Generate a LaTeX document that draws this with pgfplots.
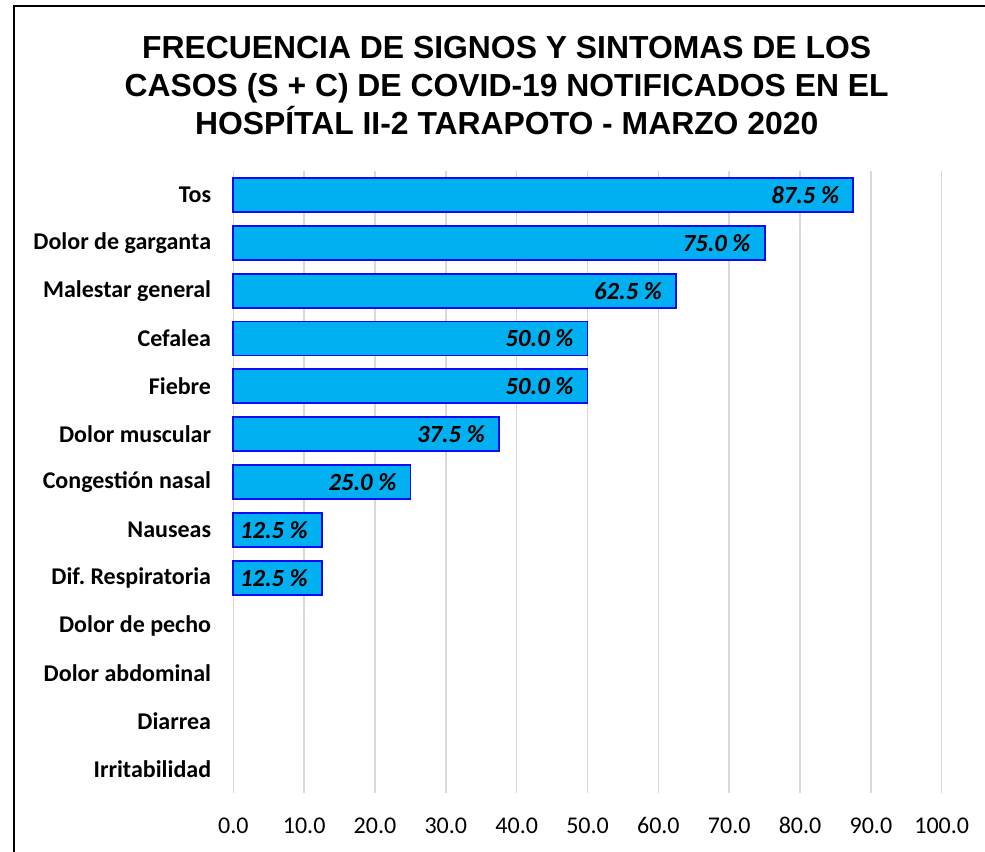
\documentclass[border=0pt]{standalone}
\usepackage{fontspec}
\usepackage{pgfplots}
\pgfplotsset{compat=1.18}
\setmainfont{Carlito}
\newfontfamily\titlefont{Liberation Sans}
\definecolor{barfill}{HTML}{00B0F0}
\definecolor{baredge}{HTML}{0A0AF5}
\definecolor{gridc}{HTML}{D9D9D9}
\frenchspacing
\begin{document}
\begin{tikzpicture}
\useasboundingbox (0,0) rectangle (738.75pt,-638.25pt);
\draw[line width=1.5pt] (10.5pt,-640pt) -- (10.5pt,-4.5pt) -- (740pt,-4.5pt);
\node[anchor=base,font=\titlefont\bfseries\fontsize{23.9}{26}\selectfont] at (380pt,-43.5pt) {FRECUENCIA DE SIGNOS Y SINTOMAS DE LOS};
\node[anchor=base,font=\titlefont\bfseries\fontsize{23.9}{26}\selectfont] at (380pt,-72pt) {CASOS (S + C) DE COVID-19 NOTIFICADOS EN EL};
\node[anchor=base,font=\titlefont\bfseries\fontsize{23.9}{26}\selectfont] at (380pt,-100.5pt) {HOSPÍTAL II-2 TARAPOTO - MARZO 2020};
\begin{axis}[
  at={(175pt,-594.75pt)}, anchor=south west,
  scale only axis, width=531.3pt, height=466.5pt,
  xbar, bar width=25.5pt,
  xmin=0, xmax=100, ymin=-0.5, ymax=12.5,
  y dir=reverse,
  axis line style={draw=none},
  xtick={0,10,...,100},
  ytick={0,...,12},
  yticklabels={Tos,Dolor de garganta,Malestar general,Cefalea,Fiebre,Dolor muscular,Congestión nasal,Nauseas,Dif. Respiratoria,Dolor de pecho,Dolor abdominal,Diarrea,Irritabilidad},
  xmajorgrids, grid style={gridc, line width=1.1pt},
  major tick length=0pt, tick style={draw=none},
  /pgf/number format/assume math mode=true,
  xticklabel={\pgfmathprintnumber[fixed,zerofill,precision=1]{\tick}},
  xticklabel style={font=\fontsize{18}{20}\selectfont, inner sep=0pt, anchor=base, yshift=-30pt},
  yticklabel style={font=\bfseries\fontsize{18}{20}\selectfont, inner sep=0pt, anchor=east, xshift=-16.5pt},
  clip=false,
  nodes near coords={\pgfmathprintnumber[fixed,zerofill,precision=1,assume math mode=true]{\pgfplotspointmeta}~\%},
  nodes near coords style={font=\bfseries\itshape\fontsize{18.5}{20}\selectfont, anchor=east, xshift=-10pt, inner sep=0pt},
]
\addplot[fill=barfill, draw=baredge, line width=1.3pt] coordinates {
(87.5,0) (75.0,1) (62.5,2) (50.0,3) (50.0,4) (37.5,5) (25.0,6) (12.5,7) (12.5,8)
};
\end{axis}
\end{tikzpicture}
\end{document}
